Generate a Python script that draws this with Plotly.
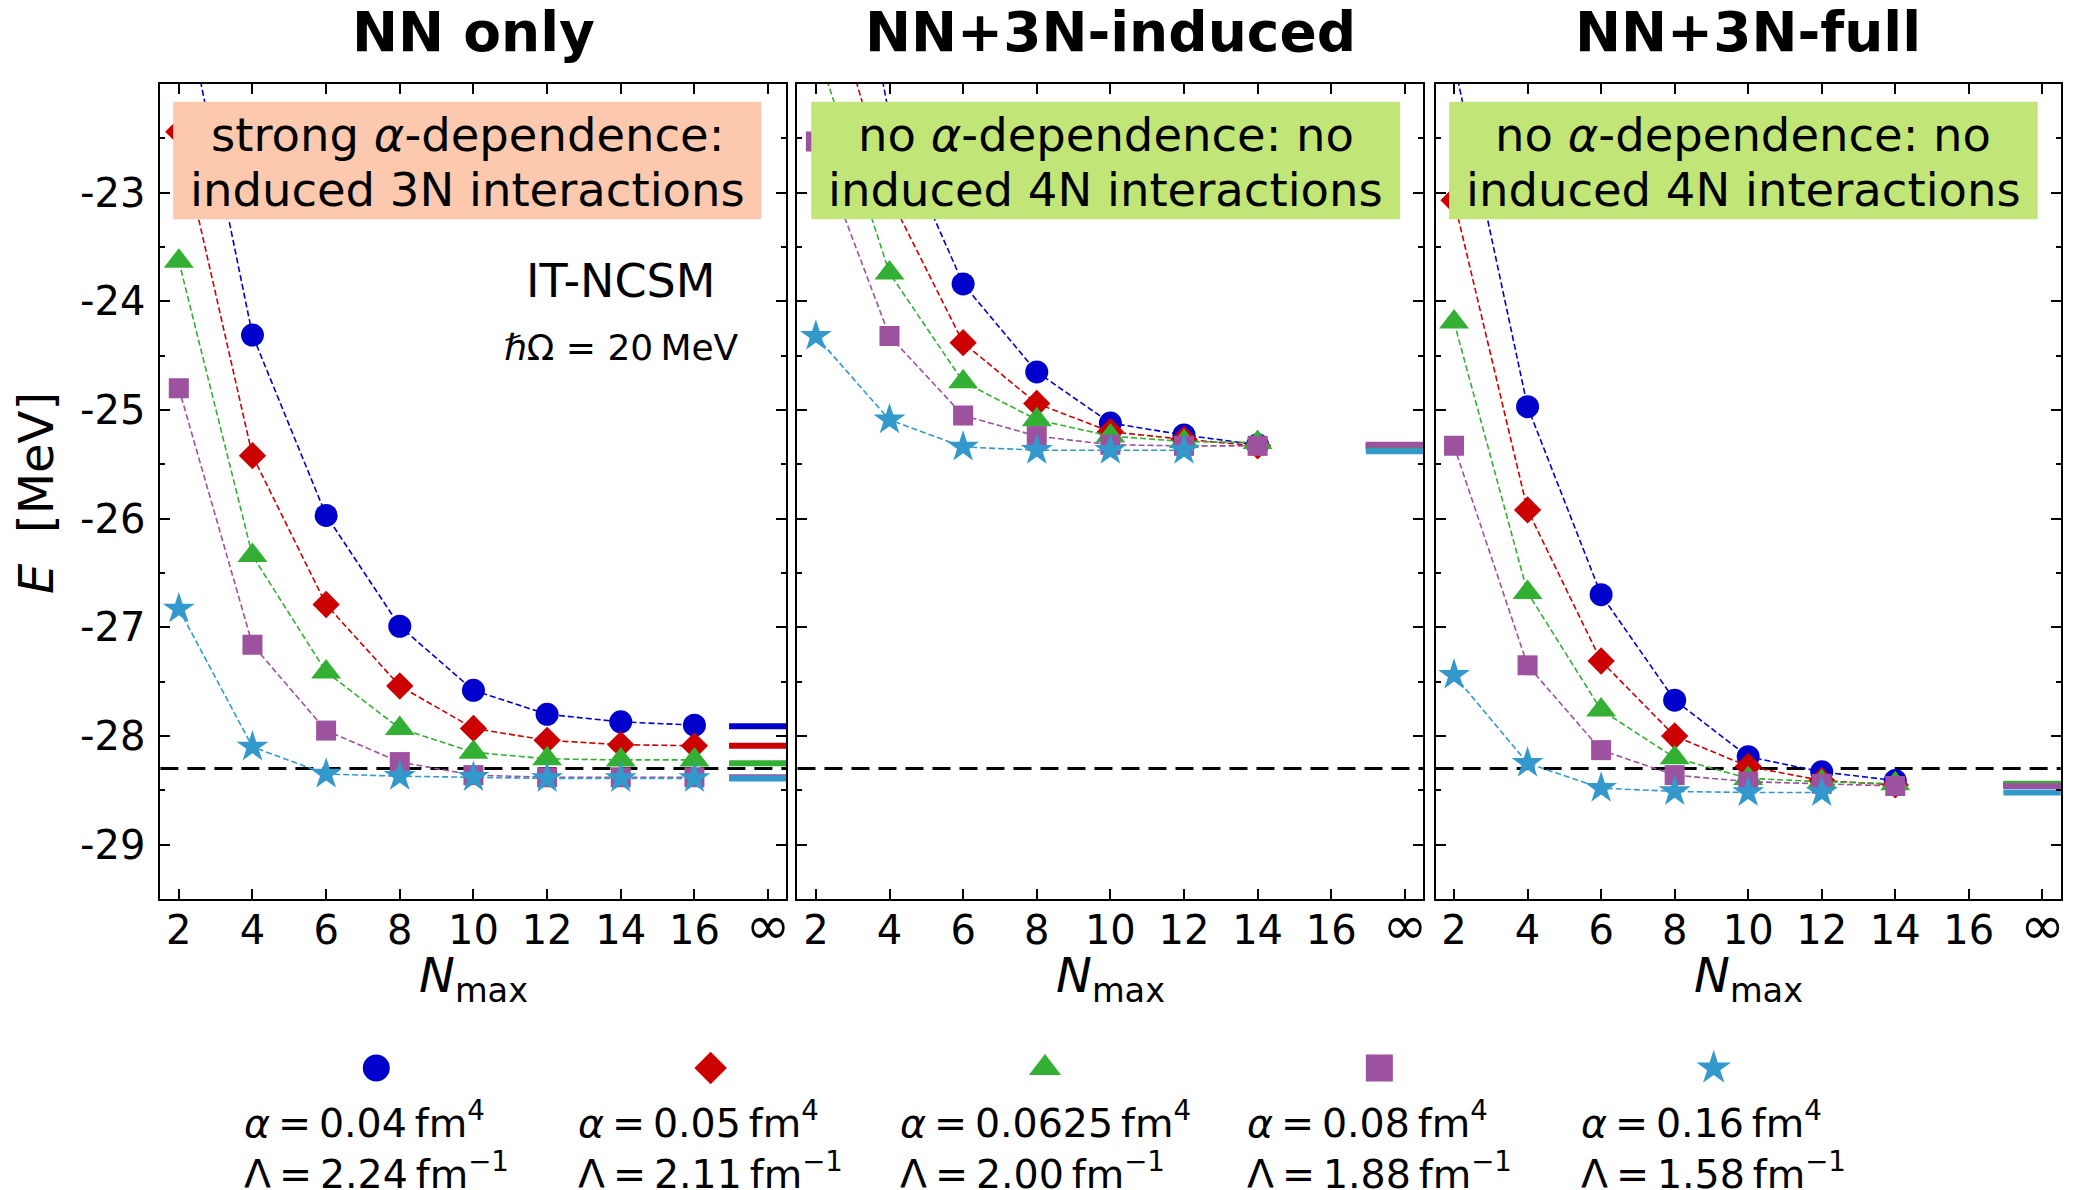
import plotly.graph_objects as go

# ---------------- data ----------------
NMAX = [2, 4, 6, 8, 10, 12, 14, 16]
XTICK_VALS = [2, 4, 6, 8, 10, 12, 14, 16, 18]
XTICK_TEXT = ["2", "4", "6", "8", "10", "12", "14", "16",
              "<span style='font-size:54px'>∞</span>"]
INF_POS = 18
YTICK_VALS = [-29, -28, -27, -26, -25, -24, -23]
YTICK_TEXT = ["-29", "-28", "-27", "-26", "-25", "-24", "-23"]
EXACT_E = -28.3

PANEL_TITLES = ["NN only", "NN+3N-induced", "NN+3N-full"]
BOX_LINES = [
    ["strong <i>α</i>-dependence:", "induced 3N interactions"],
    ["no <i>α</i>-dependence: no", "induced 4N interactions"],
    ["no <i>α</i>-dependence: no", "induced 4N interactions"],
]
BOX_COLORS = ["#fdc9ae", "#c1e677", "#c1e677"]

SERIES_COLORS = ["#0000cc", "#cc0000", "#33b033", "#9c529e", "#3399cc"]
SERIES_SYMBOLS = ["circle", "diamond", "triangle-up", "square", "star"]
ALPHA_LABELS = ["0.04", "0.05", "0.0625", "0.08", "0.16"]
LAMBDA_LABELS = ["2.24", "2.11", "2.00", "1.88", "1.58"]

# NN only
nn_a004 = [-21.0, -24.31, -25.97, -26.99, -27.58, -27.80, -27.87, -27.90]
nn_a005 = [-22.44, -25.42, -26.79, -27.54, -27.93, -28.04, -28.08, -28.09]
nn_a0625 = [-23.63, -26.34, -27.41, -27.93, -28.15, -28.21, -28.22, -28.22]
nn_a008 = [-24.80, -27.16, -27.95, -28.24, -28.36, -28.38, -28.38, -28.38]
nn_a016 = [-26.83, -28.10, -28.35, -28.37, -28.38, -28.39, -28.39, -28.39]
nn_inf = [-27.91, -28.09, -28.25, -28.38, -28.39]

# NN+3N-induced
ind_a004 = [-18.8, -22.3, -23.84, -24.65, -25.12, -25.23, -25.32]
ind_a005 = [-20.7, -23.03, -24.38, -24.94, -25.20, -25.27, -25.33]
ind_a0625 = [-21.65, -23.74, -24.74, -25.09, -25.24, -25.29, -25.30]
ind_a008 = [-22.53, -24.32, -25.05, -25.24, -25.32, -25.33, -25.33]
ind_a016 = [-24.32, -25.09, -25.34, -25.37, -25.37, -25.37]
ind_inf = [-25.33, -25.33, -25.355, -25.32, -25.38]

# NN+3N-full
full_a004 = [-21.8, -24.97, -26.70, -27.67, -28.19, -28.33, -28.41]
full_a005 = [-23.07, -25.92, -27.31, -28.00, -28.28, -28.41, -28.45]
full_a0625 = [-24.19, -26.68, -27.76, -28.20, -28.39, -28.42, -28.44]
full_a008 = [-25.33, -27.35, -28.13, -28.36, -28.42, -28.44, -28.46]
full_a016 = [-27.44, -28.25, -28.48, -28.51, -28.52, -28.52]
full_inf = [-28.45, -28.45, -28.44, -28.46, -28.52]

PANELS = [
    ([nn_a004, nn_a005, nn_a0625, nn_a008, nn_a016], nn_inf),
    ([ind_a004, ind_a005, ind_a0625, ind_a008, ind_a016], ind_inf),
    ([full_a004, full_a005, full_a0625, full_a008, full_a016], full_inf),
]

# ---------------- style ----------------
FONT = "DejaVu Sans"
W, H = 2089, 1190
MARKER_SIZES = [23, 21, 26, 20, 24]
LEGEND_SIZES = [27, 25, 28, 27, 26]
X_DOMAINS = [(160.7, 788.0), (799.0, 1426.0), (1438.4, 2064.7)]
BOX_X = [(173.5, 762.8), (812.8, 1402.8), (1451.9, 2041.6)]
BOX_Y = (101.7, 219.3)
BOX_LINE_Y = (135.0, 189.5)
Y_TOP, Y_BOT = 84.0, 899.0


def ydom(px):
    return 1 - (px - Y_TOP) / (Y_BOT - Y_TOP)


fig = go.Figure()

for p, (series, infs) in enumerate(PANELS):
    xa = "x" if p == 0 else f"x{p+1}"
    ya = "y" if p == 0 else f"y{p+1}"
    for s, vals in enumerate(series):
        fig.add_trace(go.Scatter(
            x=NMAX[:len(vals)], y=vals, xaxis=xa, yaxis=ya,
            mode="lines+markers",
            line=dict(color=SERIES_COLORS[s], width=1.6, dash="6px,3px"),
            marker=dict(symbol=SERIES_SYMBOLS[s], size=MARKER_SIZES[s],
                        color=SERIES_COLORS[s], line=dict(width=0)),
            showlegend=False, hoverinfo="skip"))
    for s, v in enumerate(infs):
        fig.add_trace(go.Scatter(
            x=[INF_POS - 1.06, INF_POS + 1], y=[v, v], xaxis=xa, yaxis=ya,
            mode="lines", line=dict(color=SERIES_COLORS[s], width=6),
            showlegend=False, hoverinfo="skip"))

# legend markers (extra invisible axis)
for s in range(5):
    fig.add_trace(go.Scatter(
        x=[s], y=[0], xaxis="x4", yaxis="y4", mode="markers",
        marker=dict(symbol=SERIES_SYMBOLS[s], size=LEGEND_SIZES[s],
                    color=SERIES_COLORS[s], line=dict(width=0)),
        showlegend=False, hoverinfo="skip"))

axis_common = dict(showline=True, linewidth=2, linecolor="black", mirror="allticks",
                   ticks="inside", ticklen=10, tickwidth=2, tickcolor="black",
                   showgrid=False, zeroline=False,
                   tickfont=dict(family=FONT, size=40, color="black"))

layout = dict(width=W, height=H, margin=dict(l=0, r=0, t=0, b=0),
              paper_bgcolor="white", plot_bgcolor="white",
              font=dict(family=FONT, color="black"), showlegend=False)

for p in range(3):
    x0, x1 = X_DOMAINS[p]
    xk = "xaxis" if p == 0 else f"xaxis{p+1}"
    yk = "yaxis" if p == 0 else f"yaxis{p+1}"
    layout[xk] = dict(axis_common, domain=[x0 / W, x1 / W], range=[1.5, 18.5],
                      tickmode="array", tickvals=XTICK_VALS, ticktext=XTICK_TEXT,
                      anchor="y" if p == 0 else f"y{p+1}", ticklabelstandoff=-5)
    layout[yk] = dict(axis_common, domain=[1 - Y_BOT / H, 1 - Y_TOP / H],
                      range=[-29.5, -22.0], tickmode="array",
                      tickvals=YTICK_VALS, ticktext=YTICK_TEXT,
                      showticklabels=(p == 0), ticklabelstandoff=5,
                      anchor="x" if p == 0 else f"x{p+1}",
                      minor=dict(ticks="inside", ticklen=5, tickwidth=1.5,
                                 tickcolor="black", dtick=0.5, tick0=-29.5))

layout["xaxis4"] = dict(domain=[0, 1], range=[-377 / 335, (W - 377) / 335],
                        visible=False, anchor="y4")
layout["yaxis4"] = dict(domain=[0.05, 0.155], range=[-1, 1], visible=False,
                        anchor="x4")

fig.update_layout(**layout)

annotations = []
shapes = []
for p in range(3):
    xr = "x domain" if p == 0 else f"x{p+1} domain"
    yr = "y domain" if p == 0 else f"y{p+1} domain"
    yd = "y" if p == 0 else f"y{p+1}"
    px0 = X_DOMAINS[p][0]
    pw = X_DOMAINS[p][1] - X_DOMAINS[p][0]
    bx0 = (BOX_X[p][0] - px0) / pw
    bx1 = (BOX_X[p][1] - px0) / pw
    annotations.append(dict(text=f"<b>{PANEL_TITLES[p]}</b>", xref=xr, yref="paper",
                            x=0.5, y=1 - 32 / H, xanchor="center", yanchor="middle",
                            showarrow=False, font=dict(family=FONT, size=55, color="black")))
    shapes.append(dict(type="rect", xref=xr, yref=yr, x0=bx0, x1=bx1,
                       y0=ydom(BOX_Y[1]), y1=ydom(BOX_Y[0]),
                       fillcolor=BOX_COLORS[p], line=dict(width=0), layer="above"))
    for li, txt in enumerate(BOX_LINES[p]):
        annotations.append(dict(text=txt, xref=xr, yref=yr,
                                x=(bx0 + bx1) / 2, y=ydom(BOX_LINE_Y[li]),
                                xanchor="center", yanchor="middle", showarrow=False,
                                font=dict(family=FONT, size=46.5, color="black")))
    annotations.append(dict(text="<i>N</i><sub>max</sub>", xref=xr, yref="paper",
                            x=0.5, y=1 - 978 / H, xanchor="center", yanchor="middle",
                            showarrow=False, font=dict(family=FONT, size=48, color="black")))
    shapes.append(dict(type="line", xref=xr, yref=yd, x0=0, x1=1, y0=EXACT_E, y1=EXACT_E,
                       line=dict(color="black", width=3, dash="18px,9px"), layer="below"))

annotations.append(dict(text="IT-NCSM", xref="x domain", yref="y domain",
                        x=0.735, y=ydom(281),
                        xanchor="center", yanchor="middle", showarrow=False,
                        font=dict(family=FONT, size=46, color="black")))
annotations.append(dict(text="<i>ℏ</i>Ω = 20\u2009MeV", xref="x domain", yref="y domain",
                        x=0.737, y=ydom(347.5),
                        xanchor="center", yanchor="middle", showarrow=False,
                        font=dict(family=FONT, size=36, color="black")))
annotations.append(dict(text="<i>E</i>  [MeV]", xref="paper", yref="paper",
                        x=36 / W, y=1 - 493 / H, xanchor="center", yanchor="middle",
                        textangle=-90, showarrow=False,
                        font=dict(family=FONT, size=48, color="black")))

for s in range(5):
    annotations.append(dict(
        text=(f"<i>α</i>\u2009=\u2009{ALPHA_LABELS[s]}\u2009fm<sup>4</sup><br>"
              f"Λ\u2009=\u2009{LAMBDA_LABELS[s]}\u2009fm<sup>−1</sup>"),
        xref="x4", yref="paper", x=s, y=1 - 1145 / H, xanchor="center", yanchor="middle",
        align="left", showarrow=False, font=dict(family=FONT, size=39.5, color="black")))

fig.update_layout(annotations=annotations, shapes=shapes)
fig.write_html("out.html")
